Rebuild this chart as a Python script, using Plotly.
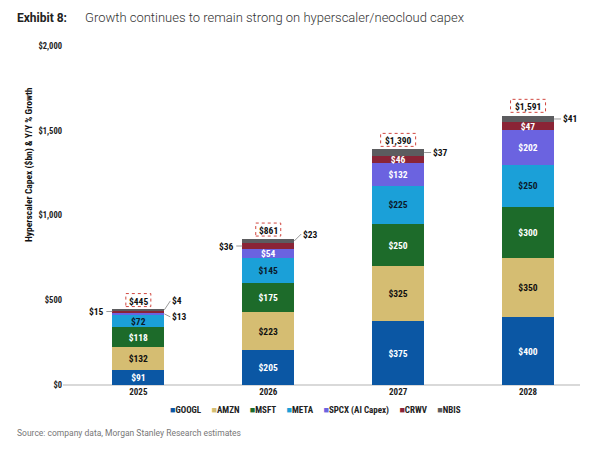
import plotly.graph_objects as go

years = ["2025", "2026", "2027", "2028"]
series_names = ["GOOGL", "AMZN", "MSFT", "META", "SPCX (AI Capex)", "CRWV", "NBIS"]
googl = [91, 205, 375, 400]
amzn = [132, 223, 325, 350]
msft = [118, 175, 250, 300]
meta = [72, 145, 225, 250]
spcx = [13, 54, 132, 202]
crwv = [15, 36, 46, 47]
nbis = [4, 23, 37, 41]
totals = [445, 861, 1390, 1591]

values = [googl, amzn, msft, meta, spcx, crwv, nbis]
colors = ["#0b57a4", "#d5bd72", "#1d6b2a", "#1ba0d8", "#6b63e0", "#8a2436", "#5c5c5f"]
text_colors = ["white", "#111111", "white", "#0b1a2a", "white", "white", "white"]

# callouts: (year index, series index, dx, dy)
callouts = [
    (0, 5, -6, 0), (0, 4, 6, 3), (0, 6, 6, -9),
    (1, 5, -6, 0), (1, 6, 7, -7),
    (2, 6, 7, 0),
    (3, 6, 7, 0),
]
callout_set = {(c[0], c[1]) for c in callouts}

FONT = "Roboto Condensed, Liberation Sans Narrow, Roboto, sans-serif"
xs = list(range(len(years)))
bar_w = 0.4

# figure geometry (page has an 8px body margin)
W, H = 592, 445
ML, MR, MT, MB = 55, 20, 38, 68
PW, PH = W - ML - MR, H - MT - MB


def px(x_page):
    return (x_page - 8 - ML) / PW


def py(y_page):
    return (H - MB - (y_page - 8)) / PH


fig = go.Figure()
for si, (name, vals) in enumerate(zip(series_names, values)):
    txt = ["" if (yi, si) in callout_set else f"${v}" for yi, v in enumerate(vals)]
    fig.add_trace(go.Bar(
        x=xs, y=vals, name=name, width=bar_w,
        marker=dict(color=colors[si], line=dict(width=0)),
        text=txt, textposition="inside", insidetextanchor="middle",
        textangle=0, constraintext="none",
        textfont=dict(family=FONT, size=9.5, color=text_colors[si], weight="bold"),
        hoverinfo="skip", cliponaxis=False, showlegend=False,
    ))

annotations = []
shapes = []

# callout annotations
for yi, si, dx, dy in callouts:
    below = sum(values[k][yi] for k in range(si))
    mid = below + values[si][yi] / 2
    side = -bar_w / 2 if dx < 0 else bar_w / 2
    annotations.append(dict(
        x=xs[yi] + side, y=mid, xref="x", yref="y",
        text=f"${values[si][yi]}", showarrow=True, arrowhead=0,
        arrowwidth=1, arrowcolor="#9a9a9a", ax=dx, ay=dy,
        font=dict(family=FONT, size=9.5, color="#111111", weight="bold"),
        xanchor="left" if dx > 0 else "right", yanchor="middle",
    ))

# totals with dashed boxes
for yi, t in enumerate(totals):
    label = f"${t:,}"
    annotations.append(dict(
        x=xs[yi], y=t, xref="x", yref="y", text=label, showarrow=False,
        yanchor="bottom", yshift=1,
        font=dict(family=FONT, size=9.5, color="#111111", weight="bold"),
    ))
    w = 5.0 * len(label) + 5
    shapes.append(dict(
        type="rect", xref="x", yref="y",
        xsizemode="pixel", ysizemode="pixel",
        xanchor=xs[yi], yanchor=t,
        x0=-w / 2, x1=w / 2, y0=3, y1=16,
        line=dict(color="#d0463f", width=1, dash="dot"),
        fillcolor="rgba(0,0,0,0)",
    ))

# legend as text
gap = "\u00a0" * 5
legend_html = gap.join(
    f"<span style='color:{c}'>■</span>{n}" for n, c in zip(series_names, colors)
)
annotations.append(dict(
    x=px(315), y=py(410), xref="paper", yref="paper", text=legend_html,
    showarrow=False, xanchor="center", yanchor="middle",
    font=dict(family=FONT, size=9, color="#222222", weight="bold"),
))

# y axis title
annotations.append(dict(
    x=px(29), y=py(165), xref="paper", yref="paper",
    text="Hyperscaler Capex ($bn) & Y/Y % Growth",
    showarrow=False, textangle=-90, xanchor="center", yanchor="middle",
    font=dict(family=FONT, size=9.5, color="#111111", weight="bold"),
))

# title
annotations.append(dict(
    x=px(15), y=py(18), xref="paper", yref="paper",
    text="Exhibit 8:", showarrow=False, xanchor="left", yanchor="middle",
    font=dict(family="Roboto, sans-serif", size=12, color="#222222", weight="bold"),
))
annotations.append(dict(
    x=px(83), y=py(18), xref="paper", yref="paper",
    text="Growth continues to remain strong on hyperscaler/neocloud capex", showarrow=False,
    xanchor="left", yanchor="middle",
    font=dict(family="Roboto, sans-serif", size=13, color="#333333", weight=300),
))
# source
annotations.append(dict(
    x=px(15), y=py(433), xref="paper", yref="paper",
    text="Source: company data, Morgan Stanley Research estimates", showarrow=False,
    xanchor="left", yanchor="middle",
    font=dict(family="Roboto, sans-serif", size=8.5, color="#777777"),
))

fig.update_layout(
    barmode="stack",
    width=W, height=H,
    margin=dict(l=ML, r=MR, t=MT, b=MB),
    paper_bgcolor="white", plot_bgcolor="white",
    annotations=annotations, shapes=shapes,
    showlegend=False,
    xaxis=dict(
        tickmode="array", tickvals=xs, ticktext=years,
        range=[-0.58, 3.4], showgrid=False, zeroline=False,
        showline=False, ticks="",
        tickfont=dict(family=FONT, size=9, color="#222222", weight="bold"),
    ),
    yaxis=dict(
        range=[0, 2000], dtick=500, tickprefix="$", tickformat=",",
        showgrid=False, zeroline=True, zerolinecolor="#d9d9d9", zerolinewidth=1.5,
        showline=False, ticks="",
        tickfont=dict(family=FONT, size=8.5, color="#222222", weight="bold"),
    ),
)

fig.write_html("out.html")
